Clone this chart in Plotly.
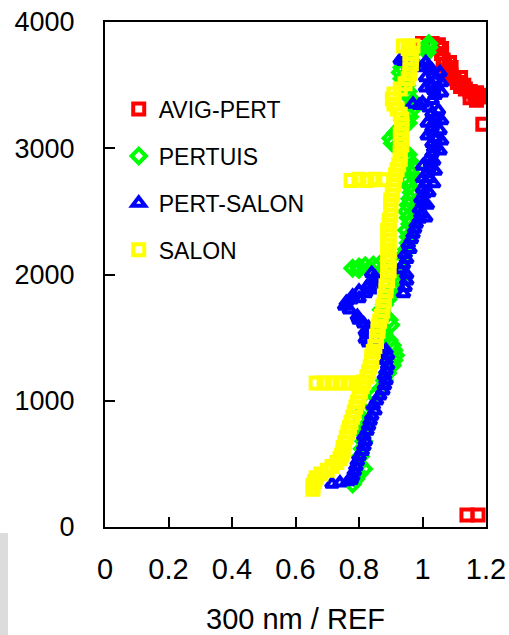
import plotly.graph_objects as go

# ---------------- data ----------------
avig_alt = [3830, 3830, 3820, 3790, 3750, 3700, 3660, 3620, 3580, 3550, 3520, 3490,
            3470, 3450, 3430, 3420, 3405, 3680, 3640, 3600, 3560, 3500, 3440, 3400,
            3380, 3190, 95, 95]
avig_x = [1.00, 1.03, 1.05, 1.06, 1.06, 1.065, 1.07, 1.08, 1.09, 1.10, 1.11, 1.12,
          1.135, 1.15, 1.165, 1.18, 1.19, 1.085, 1.09, 1.085, 1.12, 1.13, 1.17, 1.15,
          1.17, 1.19, 1.14, 1.175]

pertuis_alt = [340, 380, 420, 460, 500, 560, 620, 680, 740, 800, 860, 920, 980, 1040,
               1100, 1160, 1220, 1280, 1320, 1360, 1400, 1440, 1480, 1520, 1560, 1600,
               1640, 1680, 1720, 1760, 1800, 1840, 1880, 1920, 1960, 2000, 2040, 2050,
               2060, 2070, 2075, 2080, 2100, 2150, 2200, 2250, 2300, 2350, 2400, 2450,
               2500, 2550, 2600, 2650, 2700, 2750, 2800, 2850, 2900, 2950, 3000, 3040,
               3080, 3120, 3160, 3200, 3250, 3300, 3350, 3400, 3450, 3500, 3550, 3600,
               3640, 3680, 3720, 3760, 3800, 3830]
pertuis_x = [0.78, 0.79, 0.80, 0.815, 0.80, 0.805, 0.81, 0.815, 0.815, 0.82, 0.81, 0.815,
             0.83, 0.85, 0.87, 0.88, 0.89, 0.905, 0.91, 0.915, 0.91, 0.905, 0.895, 0.88,
             0.875, 0.90, 0.895, 0.88, 0.87, 0.88, 0.89, 0.90, 0.91, 0.92, 0.93, 0.90,
             0.80, 0.78, 0.80, 0.82, 0.845, 0.865, 0.93, 0.94, 0.95, 0.955, 0.955, 0.95,
             0.96, 0.955, 0.95, 0.955, 0.96, 0.965, 0.96, 0.955, 0.965, 0.97, 0.96, 0.955,
             0.93, 0.905, 0.90, 0.915, 0.93, 0.955, 0.96, 0.965, 0.965, 0.96, 0.955, 0.95,
             0.935, 0.93, 0.935, 0.96, 1.00, 1.015, 1.02, 1.02]

pertsalon_alt = [340, 350, 360, 370, 400, 440, 480, 520, 560, 600, 640, 680, 720, 760,
                 800, 840, 880, 920, 960, 1000, 1040, 1080, 1120, 1160, 1200, 1240, 1280,
                 1320, 1360, 1400, 1430, 1460, 1490, 1520, 1550, 1580, 1610, 1640, 1670,
                 1720, 1750, 1780, 1800, 1810, 1830, 1850, 1870, 1880, 1900, 1920, 1950,
                 1980, 2010, 1850, 1900, 1950, 2000, 2040, 2080, 2120, 2160, 2200, 2240,
                 2280, 2320, 2360, 2400, 2440, 2480, 2520, 2560, 2600, 2640, 2680, 2720,
                 2760, 2800, 2840, 2880, 2920, 2960, 3000, 3040, 3080, 3120, 3160, 3200,
                 3240, 3280, 3320, 3340, 3350, 3360, 3380, 3420, 3460, 3500, 3540, 3580,
                 3620, 3650, 3680, 3690, 3700,
                 2450, 2550, 2650, 2720, 2820, 2900, 2760, 2860, 2980, 3060, 3140, 3220,
                 3300, 3100, 3200, 3440, 3520, 3600, 3480, 3560, 3640]
pertsalon_x = [0.715, 0.74, 0.765, 0.775, 0.78, 0.785, 0.79, 0.795, 0.80, 0.81, 0.815,
               0.82, 0.815, 0.825, 0.83, 0.835, 0.84, 0.85, 0.845, 0.855, 0.865, 0.875,
               0.88, 0.885, 0.88, 0.885, 0.89, 0.885, 0.89, 0.885, 0.86, 0.83, 0.82,
               0.825, 0.82, 0.83, 0.815, 0.80, 0.795, 0.77, 0.755, 0.76, 0.775, 0.80,
               0.78, 0.82, 0.80, 0.84, 0.85, 0.83, 0.84, 0.85, 0.84, 0.94, 0.945, 0.95,
               0.95, 0.93, 0.94, 0.95, 0.945, 0.96, 0.955, 0.965, 0.97, 0.975, 0.98, 0.99,
               0.995, 0.99, 1.00, 0.995, 1.005, 1.00, 1.01, 1.02, 1.015, 1.02, 1.025,
               1.02, 1.03, 1.035, 1.03, 1.04, 1.035, 1.03, 1.035, 1.04, 1.03, 1.02, 0.99,
               0.97, 1.00, 1.03, 1.04, 1.035, 1.03, 1.04, 1.035, 1.03, 1.02, 1.01, 0.94,
               0.93,
               1.01, 1.015, 1.02, 1.035, 1.04, 1.035, 1.00, 1.00, 1.055, 1.06, 1.055, 1.06,
               1.05, 1.015, 1.015, 1.06, 1.06, 1.055, 1.01, 1.01, 1.00]

salon_alt = [300, 330, 360, 390, 420, 450, 480, 510, 540, 570, 600, 630, 670, 710, 750,
             790, 830, 870, 910, 950, 990, 1030, 1070, 1110, 1140, 1140, 1140, 1140, 1140,
             1140, 1150, 1190, 1230, 1270, 1310, 1350, 1390, 1430, 1470, 1510, 1550, 1590,
             1630, 1670, 1710, 1750, 1790, 1830, 1870, 1910, 1950, 1990, 2030, 2070, 2110,
             2150, 2190, 2230, 2270, 2310, 2350, 2390, 2430, 2470, 2510, 2550, 2590, 2630,
             2670, 2710, 2745, 2755, 2745, 2755, 2750, 2750, 2790, 2830, 2870, 2910, 2950,
             2990, 3030, 3070, 3110, 3150, 3190, 3230, 3270, 3310, 3350, 3390, 3430, 3470,
             3510, 3550, 3590, 3630, 3670, 3710, 3750, 3790, 3810, 3810, 3810]
salon_x = [0.655, 0.655, 0.66, 0.665, 0.68, 0.70, 0.715, 0.73, 0.74, 0.745, 0.75, 0.75,
           0.755, 0.76, 0.765, 0.77, 0.775, 0.78, 0.785, 0.79, 0.795, 0.80, 0.805, 0.81,
           0.665, 0.69, 0.715, 0.74, 0.765, 0.79, 0.815, 0.825, 0.83, 0.835, 0.84, 0.84,
           0.845, 0.85, 0.855, 0.855, 0.86, 0.86, 0.865, 0.87, 0.875, 0.875, 0.88, 0.88,
           0.885, 0.885, 0.89, 0.89, 0.895, 0.89, 0.895, 0.89, 0.895, 0.89, 0.895, 0.895,
           0.89, 0.895, 0.895, 0.90, 0.90, 0.90, 0.90, 0.905, 0.905, 0.91, 0.775, 0.80,
           0.825, 0.85, 0.875, 0.91, 0.915, 0.92, 0.925, 0.93, 0.93, 0.93, 0.935, 0.935,
           0.93, 0.935, 0.935, 0.935, 0.93, 0.92, 0.91, 0.905, 0.91, 0.93, 0.945, 0.955,
           0.96, 0.96, 0.965, 0.965, 0.96, 0.955, 0.94, 0.955, 0.97]

x_ticks = [0, 0.2, 0.4, 0.6, 0.8, 1, 1.2]
x_tick_labels = ["0", "0.2", "0.4", "0.6", "0.8", "1", "1.2"]
y_ticks = [0, 1000, 2000, 3000, 4000]
y_tick_labels = ["0", "1000", "2000", "3000", "4000"]

series = [
    ("AVIG-PERT", avig_x, avig_alt, "#ff0000", "square-open"),
    ("PERTUIS", pertuis_x, pertuis_alt, "#00ff00", "diamond-open"),
    ("PERT-SALON", pertsalon_x, pertsalon_alt, "#0000ff", "triangle-up-open"),
    ("SALON", salon_x, salon_alt, "#ffff00", "square-open"),
]

FONT = "Arial, Liberation Sans, sans-serif"

fig = go.Figure()
for name, xs, ys, col, sym in series:
    fig.add_trace(go.Scatter(
        x=xs, y=ys, mode="markers", name=name, legendgroup=name,
        marker=dict(symbol=sym, size=11, color=col, line=dict(width=4, color=col)),
    ))

fig.update_layout(
    template="none",
    width=509, height=635,
    margin=dict(l=105, r=23, t=22, b=108, autoexpand=False),
    paper_bgcolor="white", plot_bgcolor="white",
    font=dict(family=FONT, color="black"),
    showlegend=True,
    legend=dict(x=0.036, y=0.87, xanchor="left", yanchor="top",
                bgcolor="rgba(0,0,0,0)", font=dict(size=23, family=FONT),
                tracegroupgap=14, itemwidth=30),
    xaxis=dict(range=[0, 1.2], tickvals=x_ticks, ticktext=x_tick_labels,
               ticks="inside", ticklen=10, tickwidth=2, tickcolor="black",
               showline=True, linecolor="black", linewidth=2, mirror=True,
               showgrid=False, zeroline=False, automargin=False,
               tickfont=dict(size=29, family=FONT), ticklabelstandoff=15,
               title=dict(text="300 nm / REF", font=dict(size=29, family=FONT), standoff=27)),
    yaxis=dict(range=[0, 4000], tickvals=y_ticks, ticktext=y_tick_labels,
               ticks="inside", ticklen=10, tickwidth=2, tickcolor="black",
               showline=True, linecolor="black", linewidth=2, mirror=True,
               showgrid=False, zeroline=False, automargin=False,
               tickfont=dict(size=27, family=FONT), ticklabelstandoff=23),
    shapes=[dict(type="rect", xref="paper", yref="paper",
                 x0=-0.2756, x1=-0.2546, y0=-0.2139, y1=-0.0119,
                 fillcolor="#dcdcdc", line=dict(width=0), layer="below")],
)

fig.write_html("out.html", config={"displayModeBar": False},
               post_script="document.body.style.margin='0';")
